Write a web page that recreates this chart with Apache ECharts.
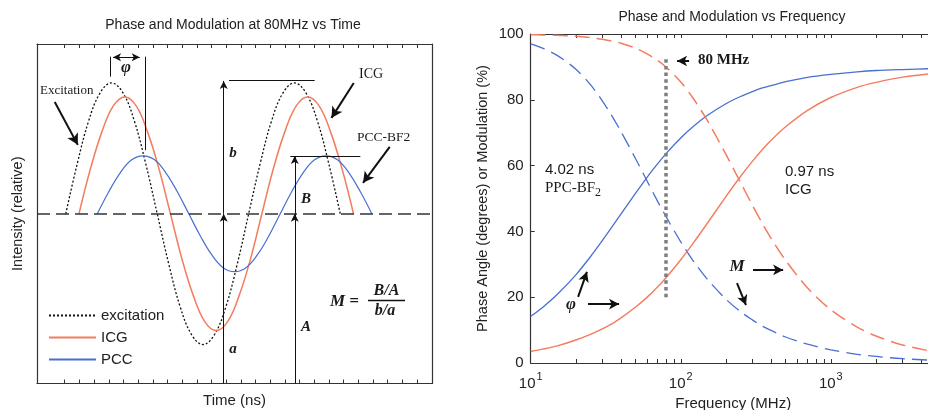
<!DOCTYPE html>
<html>
<head>
<meta charset="utf-8">
<script src="https://cdn.jsdelivr.net/npm/echarts@6/dist/echarts.min.js"></script>
<style>html,body{margin:0;padding:0;background:#fff}#c{width:928px;height:410px}</style>
</head>
<body>
<div id="c"></div>
<script>
// ---------- Left panel: intensity vs time (arbitrary units) ----------
const timeTickValues = [1,2,3,4,5,6,7,8,9,10,11,12,13,14,15,16,17,18,19,20,21,22,23,24,25];
const excitationTime = [1.07,1.85,2.63,3.41,4.19,4.97,5.74,6.52,7.30,8.08,8.86,9.64,10.42,11.20,11.98,12.76,13.53,14.31,15.09,15.87,16.65,17.43,18.21,18.99,19.77];
const excitationIntensity = [0,0.50,0.93,1.21,1.31,1.21,0.93,0.50,0,-0.50,-0.93,-1.21,-1.31,-1.21,-0.93,-0.50,0,0.50,0.93,1.21,1.31,1.21,0.93,0.50,0];
const icgTime = [1.97,2.75,3.53,4.31,5.09,5.87,6.64,7.42,8.20,8.98,9.76,10.54,11.32,12.10,12.88,13.66,14.43,15.21,15.99,16.77,17.55,18.33,19.11,19.89,20.67];
const icgIntensity = [0,0.45,0.82,1.08,1.17,1.08,0.82,0.45,0,-0.45,-0.82,-1.08,-1.17,-1.08,-0.82,-0.45,0,0.45,0.82,1.08,1.17,1.08,0.82,0.45,0];
const pccTime = [3.22,4.00,4.78,5.56,6.34,7.12,7.89,8.67,9.45,10.23,11.01,11.79,12.57,13.35,14.13,14.91,15.68,16.46,17.24,18.02,18.80,19.58,20.36,21.14,21.92];
const pccIntensity = [0,0.22,0.41,0.54,0.58,0.54,0.41,0.22,0,-0.22,-0.41,-0.54,-0.58,-0.54,-0.41,-0.22,0,0.22,0.41,0.54,0.58,0.54,0.41,0.22,0];

// ---------- Right panel: phase / modulation vs frequency ----------
const frequencyMHz = [10,12,15,20,25,30,35,40,50,60,70,80,100,120,150,200,250,300,350,400,500,700,1000,1500,2000,3000,5000];
const ppcPhase = [14.2,16.9,20.8,26.8,32.3,37.2,41.5,45.3,51.6,56.6,60.5,63.7,68.4,71.7,75.2,78.8,81.0,82.5,83.6,84.3,85.5,86.8,87.7,88.5,88.9,89.2,89.5];
const ppcModulation = [97.0,95.7,93.5,89.3,84.6,79.7,74.9,70.3,62.1,55.1,49.2,44.4,36.8,31.3,25.5,19.4,15.6,13.1,11.2,9.9,7.9,5.7,4.0,2.6,2.0,1.3,0.8];
const icgPhase = [3.5,4.2,5.2,7.0,8.7,10.4,12.0,13.7,17.0,20.1,23.1,26.0,31.4,36.2,42.4,50.6,56.7,61.3,64.9,67.7,71.8,76.8,80.7,83.8,85.3,86.9,88.1];
const icgModulation = [99.8,99.7,99.6,99.3,98.9,98.4,97.8,97.2,95.7,93.9,92.0,89.9,85.4,80.7,73.8,63.4,54.9,48.0,42.4,37.9,31.2,22.8,16.2,10.9,8.2,5.5,3.3];
const freqMinorTicks = [10,20,30,40,50,60,70,80,90,100,200,300,400,500,600,700,800,900,1000,2000,3000,4000];
const freqLabelValues = [10,100,1000];
const freqLabelExponents = ['1','2','3'];
const phaseTicks = [0,20,40,60,80,100];

const ORANGE = '#f47c5f';
const BLUE = '#4a6fd2';
const AX = '#333';
const SANS = '"Liberation Sans", Arial, sans-serif';
const SERIF = '"Liberation Serif", "Times New Roman", serif';

function pairs(xs, ys) { return xs.map((x, i) => [x, ys[i]]); }

const chart = echarts.init(document.getElementById('c'), null, {renderer: 'canvas'});

const mlBase = {silent: true, animation: false, label: {show: false}, emphasis: {disabled: true}};

function txt(text, x, y, font, align, extra) {
  return Object.assign({type: 'text', x: x, y: y, silent: true,
    style: Object.assign({text: text, font: font, fill: '#1a1a1a', align: align || 'left', verticalAlign: 'middle'}, extra || {})});
}

const option = {
  animation: false,
  backgroundColor: '#fff',
  title: [
    {text: 'Phase and Modulation at 80MHz vs Time', left: 233, top: 18, textAlign: 'center', padding: 0,
     textStyle: {fontFamily: SANS, fontSize: 14, fontWeight: 'normal', color: '#222'}},
    {text: 'Phase and Modulation vs Frequency', left: 732, top: 10, textAlign: 'center', padding: 0,
     textStyle: {fontFamily: SANS, fontSize: 14, fontWeight: 'normal', color: '#222'}}
  ],
  legend: {
    data: ['excitation', 'ICG', 'PCC'], orient: 'vertical', left: 48, top: 308,
    itemWidth: 47, itemHeight: 14, itemGap: 7, selectedMode: false, padding: 0,
    itemStyle: {opacity: 0},
    textStyle: {fontFamily: SANS, fontSize: 15, color: '#222'}
  },
  grid: [
    {left: 37, top: 44, width: 395, height: 339.5, outerBoundsMode: 'none', containLabel: false},
    {left: 530.7, top: 34, width: 405, height: 329, outerBoundsMode: 'none', containLabel: false}
  ],
  xAxis: [
    {gridIndex: 0, type: 'value', min: -0.89, max: 26.02, position: 'bottom',
     axisLine: {onZero: false, lineStyle: {color: AX, width: 1.2}},
     axisTick: {inside: true, length: 4, customValues: timeTickValues, lineStyle: {color: AX}},
     axisLabel: {show: false}, splitLine: {show: false},
     name: 'Time (ns)', nameLocation: 'middle', nameGap: 10,
     nameTextStyle: {fontFamily: SANS, fontSize: 15, color: '#222'}},
    {gridIndex: 0, type: 'value', min: -0.89, max: 26.02, position: 'top',
     axisLine: {onZero: false, lineStyle: {color: AX, width: 1.2}},
     axisTick: {inside: true, length: 4, customValues: timeTickValues, lineStyle: {color: AX}},
     axisLabel: {show: false}, splitLine: {show: false}},
    {gridIndex: 1, type: 'log', logBase: 10, min: 10, max: 5000, position: 'bottom',
     axisLine: {onZero: false, lineStyle: {color: AX, width: 1.2}},
     axisTick: {inside: true, length: 4, customValues: freqMinorTicks, lineStyle: {color: AX}},
     axisLabel: {customValues: freqLabelValues, margin: 8, color: '#222',
       formatter: function (v) {
         let best = 0;
         freqLabelValues.forEach((fv, i) => { if (Math.abs(fv - v) < Math.abs(freqLabelValues[best] - v)) best = i; });
         return '{b|10}{s|' + freqLabelExponents[best] + '}';
       },
       rich: {b: {fontFamily: SANS, fontSize: 15, color: '#222', lineHeight: 20, verticalAlign: 'bottom'},
              s: {fontFamily: SANS, fontSize: 11, color: '#222', lineHeight: 12, verticalAlign: 'top', padding: [0, 0, 0, 1]}}},
     splitLine: {show: false},
     name: 'Frequency (MHz)', nameLocation: 'middle', nameGap: 27,
     nameTextStyle: {fontFamily: SANS, fontSize: 15, color: '#222'}},
    {gridIndex: 1, type: 'log', logBase: 10, min: 10, max: 5000, position: 'top',
     axisLine: {onZero: false, lineStyle: {color: AX, width: 1.2}},
     axisTick: {inside: true, length: 4, customValues: freqMinorTicks, lineStyle: {color: AX}},
     axisLabel: {show: false}, splitLine: {show: false}}
  ],
  yAxis: [
    {gridIndex: 0, type: 'value', min: -1.7, max: 1.7, position: 'left',
     axisLine: {show: true, onZero: false, lineStyle: {color: AX, width: 1.2}},
     axisTick: {show: false}, axisLabel: {show: false}, splitLine: {show: false},
     name: 'Intensity (relative)', nameLocation: 'middle', nameGap: 12,
     nameTextStyle: {fontFamily: SANS, fontSize: 14.5, color: '#222'}},
    {gridIndex: 0, type: 'value', min: -1.7, max: 1.7, position: 'right',
     axisLine: {show: true, onZero: false, lineStyle: {color: AX, width: 1.2}},
     axisTick: {show: false}, axisLabel: {show: false}, splitLine: {show: false}},
    {gridIndex: 1, type: 'value', min: 0, max: 100, interval: 20, position: 'left',
     axisLine: {show: true, onZero: false, lineStyle: {color: AX, width: 1.2}},
     axisTick: {inside: true, length: 4, customValues: phaseTicks, lineStyle: {color: AX}},
     axisLabel: {margin: 7, fontFamily: SANS, fontSize: 15, color: '#222'},
     splitLine: {show: false},
     name: 'Phase Angle (degrees) or Modulation (%)', nameLocation: 'middle', nameGap: 40,
     nameTextStyle: {fontFamily: SANS, fontSize: 14.5, color: '#222'}}
  ],
  series: [
    {name: 'excitation', type: 'line', xAxisIndex: 0, yAxisIndex: 0, symbol: 'none', smooth: 0.4,
     data: pairs(excitationTime, excitationIntensity), lineStyle: {color: '#111', width: 1.3, type: [2, 2]}, itemStyle: {color: '#111'}},
    {name: 'ICG', type: 'line', xAxisIndex: 0, yAxisIndex: 0, symbol: 'none', smooth: 0.4,
     data: pairs(icgTime, icgIntensity), lineStyle: {color: ORANGE, width: 1.5}, itemStyle: {color: ORANGE}},
    {name: 'PCC', type: 'line', xAxisIndex: 0, yAxisIndex: 0, symbol: 'none', smooth: 0.4,
     data: pairs(pccTime, pccIntensity), lineStyle: {color: BLUE, width: 1.2}, itemStyle: {color: BLUE}},
    // baseline + thin lines
    {name: 'ann1', type: 'line', xAxisIndex: 0, yAxisIndex: 0, data: [], silent: true,
     markLine: Object.assign({}, mlBase, {symbol: 'none', lineStyle: {color: '#111', width: 1, type: 'solid'},
       data: [
         {yAxis: 0, lineStyle: {type: [13, 6], width: 1.5, color: '#333'}},
         [{coord: [4.11, 1.573]}, {coord: [4.11, 1.373]}],
         [{coord: [6.50, 1.573]}, {coord: [6.50, 0.638]}],
         [{coord: [12.19, 1.333]}, {coord: [18.03, 1.333]}],
         [{coord: [16.37, 0.578]}, {coord: [21.14, 0.578]}]
       ]})},
    // thin arrows
    {name: 'ann2', type: 'line', xAxisIndex: 0, yAxisIndex: 0, data: [], silent: true,
     markLine: Object.assign({}, mlBase, {symbol: ['none', 'arrow'], symbolSize: [6, 8], lineStyle: {color: '#111', width: 1, type: 'solid'},
       data: [
         [{coord: [11.83, -1.7]}, {coord: [11.83, 0]}],
         [{coord: [11.83, 0]}, {coord: [11.83, 1.33]}],
         [{coord: [16.67, -1.7]}, {coord: [16.67, 0]}],
         [{coord: [16.67, 0]}, {coord: [16.67, 0.578]}],
         [{coord: [4.29, 1.567], symbol: 'arrow'}, {coord: [6.11, 1.567]}]
       ]})},
    // thick arrows left
    {name: 'ann3', type: 'line', xAxisIndex: 0, yAxisIndex: 0, data: [], silent: true,
     markLine: Object.assign({}, mlBase, {symbol: ['none', 'arrow'], symbolSize: [9, 11], lineStyle: {color: '#111', width: 2, type: 'solid'},
       data: [
         [{coord: [0.32, 1.12]}, {coord: [1.89, 0.69]}],
         [{coord: [20.69, 1.31]}, {coord: [19.17, 0.96]}],
         [{coord: [23.14, 0.67]}, {coord: [21.32, 0.31]}]
       ]})},
    // right panel curves
    {name: 'PPC phase', type: 'line', xAxisIndex: 2, yAxisIndex: 2, symbol: 'none', smooth: 0.3,
     data: pairs(frequencyMHz, ppcPhase), lineStyle: {color: BLUE, width: 1.3}},
    {name: 'PPC modulation', type: 'line', xAxisIndex: 2, yAxisIndex: 2, symbol: 'none', smooth: 0.3,
     data: pairs(frequencyMHz, ppcModulation), lineStyle: {color: BLUE, width: 1.3, type: [15, 7]}},
    {name: 'ICG phase', type: 'line', xAxisIndex: 2, yAxisIndex: 2, symbol: 'none', smooth: 0.3,
     data: pairs(frequencyMHz, icgPhase), lineStyle: {color: ORANGE, width: 1.4}},
    {name: 'ICG modulation', type: 'line', xAxisIndex: 2, yAxisIndex: 2, symbol: 'none', smooth: 0.3,
     data: pairs(frequencyMHz, icgModulation), lineStyle: {color: ORANGE, width: 1.5, type: [15, 7]}},
    // 80 MHz marker
    {name: 'ann4', type: 'line', xAxisIndex: 2, yAxisIndex: 2, data: [], silent: true,
     markLine: Object.assign({}, mlBase, {symbol: 'none', lineStyle: {color: '#7f7f7f', width: 3.5, type: [3.5, 3.2]},
       data: [[{coord: [80, 20]}, {coord: [80, 93]}]]})},
    // thick arrows right
    {name: 'ann5', type: 'line', xAxisIndex: 2, yAxisIndex: 2, data: [], silent: true,
     markLine: Object.assign({}, mlBase, {symbol: ['none', 'arrow'], symbolSize: [8, 10], lineStyle: {color: '#111', width: 2, type: 'solid'},
       data: [
         [{coord: [20.7, 20.1]}, {coord: [23.7, 27.7]}],
         [{coord: [24.1, 17.9]}, {coord: [38.8, 17.9]}],
         [{coord: [303, 28.3]}, {coord: [481, 28.3]}],
         [{coord: [237, 24.3]}, {coord: [272, 17.6]}],
         [{coord: [113.6, 91.8]}, {coord: [94.5, 91.8]}]
       ]})}
  ],
  graphic: [
    txt('Excitation', 40, 91, '13px ' + SERIF),
    txt('ICG', 359, 74, '14px ' + SERIF),
    txt('PCC-BF2', 357, 137, '13.5px ' + SERIF),
    txt('b', 233, 153, 'italic bold 15px ' + SERIF, 'center'),
    txt('B', 306, 199, 'italic bold 15px ' + SERIF, 'center'),
    txt('a', 233, 349, 'italic bold 15px ' + SERIF, 'center'),
    txt('A', 306, 327, 'italic bold 15px ' + SERIF, 'center'),
    txt('\u03C6', 126, 68, 'italic bold 17px ' + SERIF, 'center'),
    txt('M =', 330, 302, 'italic bold 17px ' + SERIF),
    txt('B/A', 386.5, 291, 'italic bold 16px ' + SERIF, 'center'),
    txt('b/a', 385, 311, 'italic bold 16px ' + SERIF, 'center'),
    {type: 'line', silent: true, shape: {x1: 368, y1: 300.5, x2: 405, y2: 300.5}, style: {stroke: '#111', lineWidth: 1.3}},
    txt('4.02 ns', 545, 170, '15px ' + SANS),
    {type: 'text', x: 545, y: 190, silent: true, style: {text: '{a|PPC-BF}{s|2}', align: 'left', verticalAlign: 'middle',
      rich: {a: {font: '15px ' + SERIF, fill: '#1a1a1a', lineHeight: 18, verticalAlign: 'top'},
             s: {font: '12px ' + SERIF, fill: '#1a1a1a', lineHeight: 12, verticalAlign: 'bottom'}}}},
    txt('0.97 ns', 785, 172, '15px ' + SANS),
    txt('ICG', 785, 190, '15px ' + SANS),
    txt('\u03C6', 571, 305, 'italic bold 17px ' + SERIF, 'center'),
    txt('M', 737, 267, 'italic bold 17px ' + SERIF, 'center'),
    txt('80 MHz', 698, 60, 'bold 15px ' + SERIF)
  ]
};
chart.setOption(option);
</script>
</body>
</html>
